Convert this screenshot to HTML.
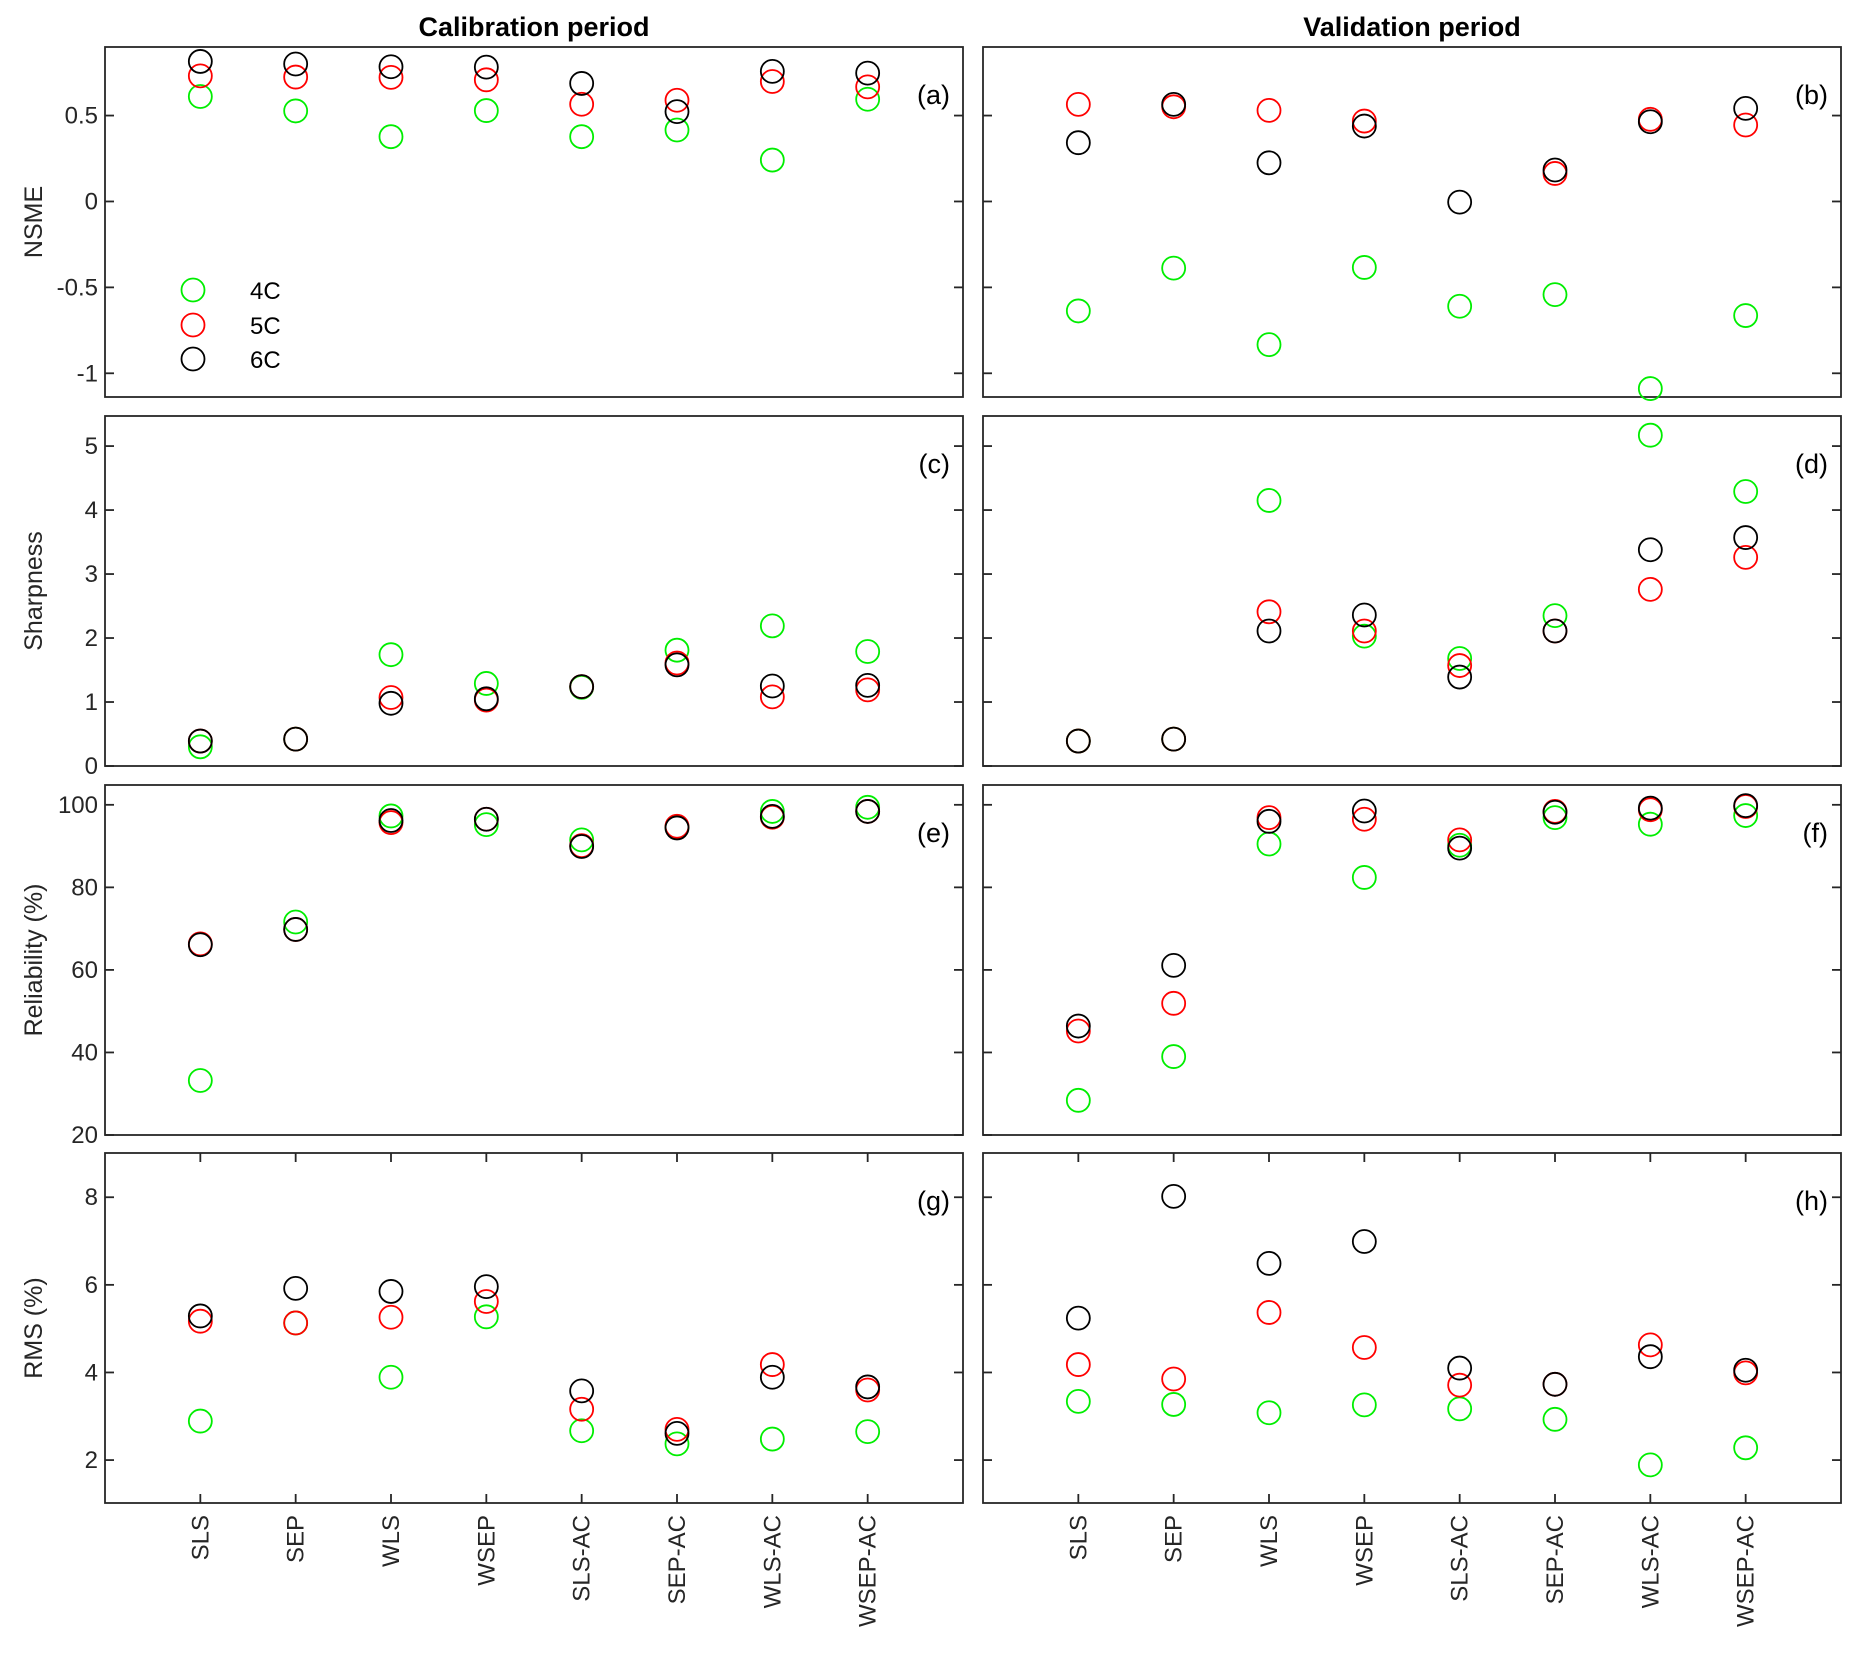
<!DOCTYPE html>
<html><head><meta charset="utf-8"><style>
html,body{margin:0;padding:0;background:#fff;}
svg{display:block;font-family:"Liberation Sans",Arial,sans-serif;}
</style></head><body>
<svg id="fig" width="1858" height="1661" viewBox="0 0 1858 1661"></svg>
<script>
const categories = ["SLS","SEP","WLS","WSEP","SLS-AC","SEP-AC","WLS-AC","WSEP-AC"];
const seriesNames = ["4C","5C","6C"];
const seriesColors = ["#00ee00","#ff0000","#000000"];
// NSME
const nsmeCal4 = [0.611,0.527,0.377,0.529,0.377,0.416,0.241,0.595];
const nsmeCal5 = [0.731,0.724,0.722,0.708,0.566,0.589,0.698,0.667];
const nsmeCal6 = [0.815,0.800,0.784,0.782,0.687,0.523,0.757,0.747];
const nsmeVal4 = [-0.637,-0.388,-0.833,-0.384,-0.610,-0.542,-1.089,-0.664];
const nsmeVal5 = [0.565,0.551,0.530,0.468,null,0.163,0.478,0.445];
const nsmeVal6 = [0.342,0.565,0.225,0.439,-0.004,0.183,0.464,0.542];
// Sharpness
const shCal4 = [0.30,0.42,1.74,1.29,1.23,1.81,2.19,1.79];
const shCal5 = [0.39,0.42,1.07,1.03,1.24,1.61,1.08,1.19];
const shCal6 = [0.39,0.42,0.98,1.05,1.24,1.58,1.25,1.26];
const shVal4 = [0.39,0.42,4.15,2.03,1.68,2.35,5.17,4.29];
const shVal5 = [0.39,0.42,2.41,2.11,1.57,2.11,2.76,3.26];
const shVal6 = [0.39,0.42,2.11,2.36,1.39,2.11,3.38,3.57];
// Reliability
const relCal4 = [33.2,71.6,97.3,95.2,91.5,94.6,98.4,99.4];
const relCal5 = [66.3,69.8,95.7,96.5,90.1,94.8,97.0,98.4];
const relCal6 = [66.1,69.8,96.2,96.5,89.9,94.4,97.2,98.4];
const relVal4 = [28.4,39.0,90.5,82.4,90.2,96.9,95.3,97.4];
const relVal5 = [45.2,51.9,96.9,96.5,91.5,98.4,98.8,99.6];
const relVal6 = [46.4,61.1,96.0,98.5,89.5,98.2,99.2,99.8];
// RMS
const rmsCal4 = [2.89,5.13,3.89,5.27,2.67,2.37,2.48,2.65];
const rmsCal5 = [5.17,5.13,5.26,5.62,3.16,2.70,4.18,3.60];
const rmsCal6 = [5.29,5.92,5.85,5.96,3.58,2.61,3.89,3.67];
const rmsVal4 = [3.34,3.27,3.08,3.26,3.17,2.93,1.89,2.28];
const rmsVal5 = [4.18,3.85,5.37,4.57,3.71,3.73,4.63,3.99];
const rmsVal6 = [5.24,8.02,6.49,6.99,4.10,3.73,4.36,4.05];
// ticks
const nsmeTicks = [-1,-0.5,0,0.5];
const nsmeTickLabels = ["-1","-0.5","0","0.5"];
const shTicks = [0,1,2,3,4,5];
const relTicks = [20,40,60,80,100];
const rmsTicks = [2,4,6,8];

const NS="http://www.w3.org/2000/svg";
const svg=document.getElementById('fig');
function el(tag,attrs,parent){const e=document.createElementNS(NS,tag);for(const k in attrs)e.setAttribute(k,attrs[k]);(parent||svg).appendChild(e);return e;}

const colX=[105,983], panelW=858;
const rowY=[47,416,785,1153], panelH=350;
const rows=[
 {name:"nsme",label:"NSME",dom:[-1.138,0.899],ticks:nsmeTicks,tlab:nsmeTickLabels,data:[[nsmeCal4,nsmeCal5,nsmeCal6],[nsmeVal4,nsmeVal5,nsmeVal6]],tags:["(a)","(b)"]},
 {name:"sharpness",label:"Sharpness",dom:[0,5.47],ticks:shTicks,tlab:shTicks.map(String),data:[[shCal4,shCal5,shCal6],[shVal4,shVal5,shVal6]],tags:["(c)","(d)"]},
 {name:"reliability",label:"Reliability (%)",dom:[20,104.8],ticks:relTicks,tlab:relTicks.map(String),data:[[relCal4,relCal5,relCal6],[relVal4,relVal5,relVal6]],tags:["(e)","(f)"]},
 {name:"rms",label:"RMS (%)",dom:[1.02,9.01],ticks:rmsTicks,tlab:rmsTicks.map(String),data:[[rmsCal4,rmsCal5,rmsCal6],[rmsVal4,rmsVal5,rmsVal6]],tags:["(g)","(h)"]}
];

// titles
let t=el('text',{x:534,y:36,'text-anchor':'middle','font-size':27,'font-weight':'bold',fill:'#000'});


t.textContent="Calibration period";
t=el('text',{x:1412,y:36,'text-anchor':'middle','font-size':27,'font-weight':'bold',fill:'#000'});


t.textContent="Validation period";

rows.forEach((r,ri)=>{
  const y0=rowY[ri];
  const yS=v=>y0+panelH-(v-r.dom[0])/(r.dom[1]-r.dom[0])*panelH;
  for(let c=0;c<2;c++){
    const x0=colX[c];
    const xS=i=>x0+(i+1)*panelW/9;
    const g=el('g',{});
    
    
    const fr=el('rect',{x:x0,y:y0,width:panelW,height:panelH,fill:'none',stroke:'#262626','stroke-width':1.8},g);
    
    
    r.ticks.forEach((tv,ti)=>{
      const yy=yS(tv);
      el('line',{x1:x0,x2:x0+9,y1:yy,y2:yy,stroke:'#262626','stroke-width':1.8},g);
      el('line',{x1:x0+panelW-9,x2:x0+panelW,y1:yy,y2:yy,stroke:'#262626','stroke-width':1.8},g);
      if(c===0){
        const tl=el('text',{x:x0-7,y:yy+8,'text-anchor':'end','font-size':24,fill:'#262626'},g);
        
        
        tl.textContent=r.tlab[ti];
      }
    });
    if(ri===3){
      categories.forEach((cat,i)=>{
        const xx=xS(i);
        el('line',{x1:xx,x2:xx,y1:y0,y2:y0+9,stroke:'#262626','stroke-width':1.8},g);
        el('line',{x1:xx,x2:xx,y1:y0+panelH-9,y2:y0+panelH,stroke:'#262626','stroke-width':1.8},g);
        const xl=el('text',{x:0,y:0,'text-anchor':'end','font-size':24,fill:'#262626',transform:`translate(${xx+8},${y0+panelH+12}) rotate(-90)`},g);
        
        
        xl.textContent=cat;
      });
    }
    const pl=el('text',{x:x0+panelW-13,y:y0+57,'text-anchor':'end','font-size':27,fill:'#000'},g);
    
    
    pl.textContent=r.tags[c];
    r.data[c].forEach((arr,si)=>{
      arr.forEach((v,i)=>{
        if(v===null)return;
        const m=el('circle',{cx:xS(i),cy:yS(v),r:11.5,fill:'none',stroke:seriesColors[si],'stroke-width':1.8},g);
        
        
      });
    });
  }
  const yl=el('text',{x:0,y:0,'text-anchor':'middle','font-size':25,fill:'#262626',transform:`translate(42,${y0+panelH/2}) rotate(-90)`});
  
  
  yl.textContent=r.label;
});

// legend
const lg=el('g',{});


const legY=[290,325,359];
seriesNames.forEach((n,i)=>{
  const c=el('circle',{cx:193,cy:legY[i],r:11.5,fill:'none',stroke:seriesColors[i],'stroke-width':1.8},lg);
  
  
  const tx=el('text',{x:250,y:legY[i]+9,'font-size':24,fill:'#000'},lg);
  
  
  tx.textContent=n;
});
</script>
</body></html>
